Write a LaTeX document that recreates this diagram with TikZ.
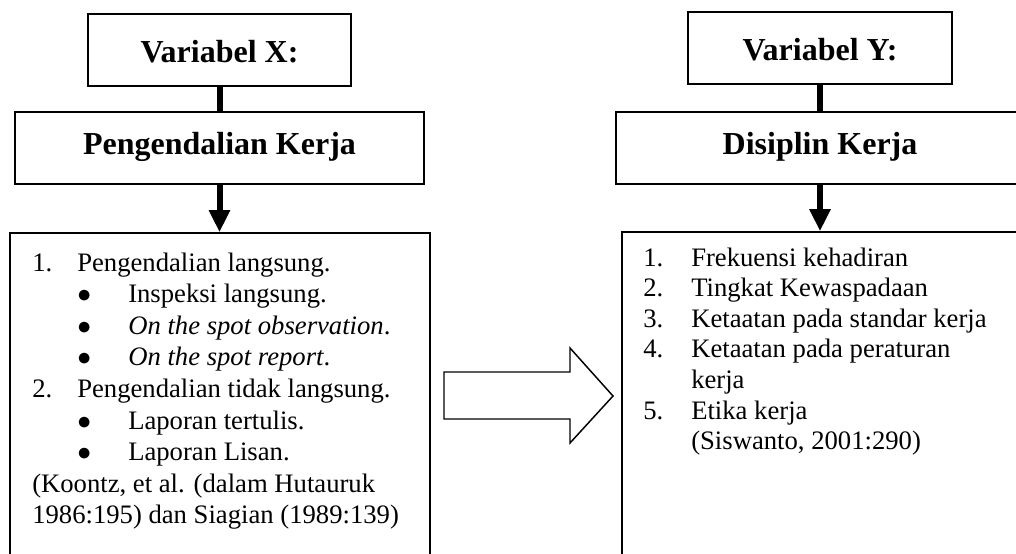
\documentclass[tikz,border=0pt]{standalone}
\usepackage{fontspec}
\setmainfont{Liberation Serif}
\usetikzlibrary{arrows.meta}
\newcommand{\bul}{\makebox[38.25pt][l]{$\bullet$}}
\newcommand{\lno}[1]{\makebox[33.75pt][l]{#1}}
\newcommand{\rno}[1]{\makebox[36pt][l]{#1}}

\begin{document}
\begin{tikzpicture}[x=0.75pt,y=-0.75pt]
\tikzstyle{box}=[rectangle, draw=black, line width=1.2pt, inner sep=0pt, fill=white]
\tikzstyle{varbox}=[box, minimum height=54pt, font=\fontsize{24}{28}\selectfont\bfseries, text height=19pt, text depth=0pt]
\tikzstyle{dimbox}=[box, minimum height=54pt, font=\fontsize{24}{28}\selectfont\bfseries, text height=17pt, text depth=7pt]
\tikzstyle{listbox}=[box, minimum height=275.25pt]
\tikzstyle{item}=[anchor=base west, inner sep=0pt, font=\fontsize{20}{24}\selectfont]
\tikzstyle{link}=[line width=4.5pt]
\tikzstyle{flow}=[line width=4.5pt, -{Triangle[width=15pt,length=16.5pt]}]
\tikzstyle{blockarrow}=[draw=black, fill=white, line width=1.1pt, line join=miter]
\useasboundingbox (0,0) rectangle (1016,553);
\clip (0,0) rectangle (1016,553);
\fill[white] (0,0) rectangle (1016,553);

	% variabel X
	\node[varbox, minimum width=197.25pt] (varx) at (219.5,50) {Variabel X:};
	\node[dimbox, minimum width=306.75pt] (pk) at (219.5,148) {Pengendalian Kerja};
	\node[listbox, minimum width=315pt] (pklist) at (220,416.5) {};

	% variabel Y
	\node[varbox, minimum width=198pt] (vary) at (820,48) {Variabel Y:};
	\node[dimbox, minimum width=306pt] (dk) at (820,148) {Disiplin Kerja};
	\node[listbox, minimum width=306pt] (dklist) at (826,415.5) {};

	\draw[link] (varx) -- (pk);
	\draw[link] (vary) -- (dk);
	\draw[flow] (pk.south) -- (pk.south |- pklist.north);
	\draw[flow] (dk.south) -- (dk.south |- dklist.north);

	% indikator X
	\node[item] (x1) at (32,271) {\lno{1.}Pengendalian langsung.};
	\node[item] (x11) at (77,302.6) {\bul Inspeksi langsung.};
	\node[item] (x12) at (77,334.2) {\bul\textit{On the spot observation}.};
	\node[item] (x13) at (77,365.8) {\bul\textit{On the spot report}.};
	\node[item] (x2) at (32,397.4) {\lno{2.}Pengendalian tidak langsung.};
	\node[item] (x21) at (77,429) {\bul Laporan tertulis.};
	\node[item] (x22) at (77,460.6) {\bul Laporan Lisan.};
	\node[item] (xsrc1) at (32,492.2) {(Koontz, et al. (dalam Hutauruk};
	\node[item] (xsrc2) at (32,523.8) {1986:195) dan Siagian (1989:139)};

	% indikator Y
	\node[item] (y1) at (643,266) {\rno{1.}Frekuensi kehadiran};
	\node[item] (y2) at (643,296.6) {\rno{2.}Tingkat Kewaspadaan};
	\node[item] (y3) at (643,327.2) {\rno{3.}Ketaatan pada standar kerja};
	\node[item] (y4) at (643,357.8) {\rno{4.}Ketaatan pada peraturan};
	\node[item] (y4b) at (691,388.4) {kerja};
	\node[item] (y5) at (643,419) {\rno{5.}Etika kerja};
	\node[item] (ysrc) at (691,449.6) {(Siswanto, 2001:290)};

	% panah pengaruh
	\draw[blockarrow] (444,372) -- (570,372) -- (570,348) -- (613,396) -- (570,443) -- (570,419) -- (444,419) -- cycle;

\end{tikzpicture}
\end{document}
